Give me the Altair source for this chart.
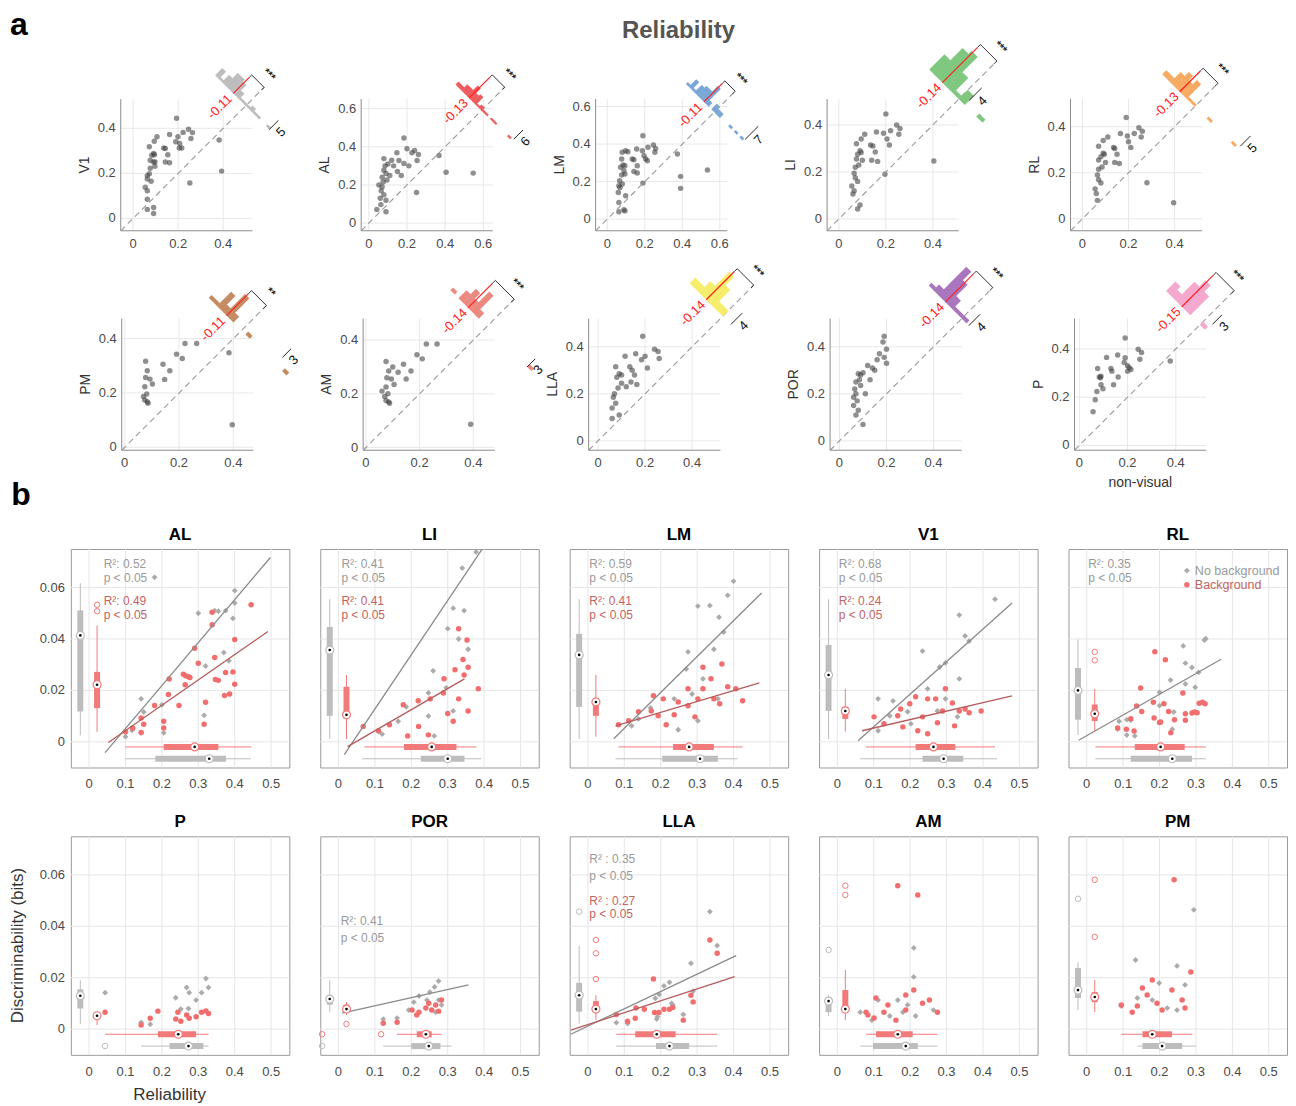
import math
import altair as alt
import pandas as pd

FONT = "Liberation Sans"

# ======================= panel a data =======================
A_NAMES = ["V1", "AL", "LM", "LI", "RL", "PM", "AM", "LLA", "POR", "P"]

A_V1 = [(0.193,0.445),(0.246,0.396),(0.264,0.381),(0.222,0.382),(0.199,0.363),(0.189,0.340),(0.207,0.333),
        (0.205,0.313),(0.216,0.313),(0.162,0.373),(0.106,0.363),(0.094,0.343),(0.136,0.313),(0.143,0.310),
        (0.154,0.283),(0.143,0.250),(0.162,0.247),(0.257,0.355),(0.072,0.318),(0.091,0.288),(0.095,0.283),
        (0.083,0.280),(0.076,0.258),(0.097,0.250),(0.091,0.250),(0.097,0.232),(0.076,0.223),(0.072,0.198),
        (0.063,0.190),(0.063,0.175),(0.080,0.165),(0.054,0.138),(0.063,0.123),(0.063,0.085),(0.063,0.040),
        (0.091,0.048),(0.091,0.022),(0.382,0.348),(0.393,0.210),(0.252,0.157)]
A_AL = [(0.184,0.446),(0.20,0.39),(0.226,0.369),(0.147,0.369),(0.24,0.38),(0.26,0.36),(0.079,0.338),
        (0.158,0.328),(0.184,0.313),(0.253,0.328),(0.21,0.30),(0.12,0.33),(0.13,0.30),(0.10,0.31),
        (0.085,0.30),(0.079,0.277),(0.09,0.26),(0.095,0.226),(0.11,0.25),(0.07,0.24),(0.053,0.2),
        (0.07,0.19),(0.065,0.17),(0.079,0.149),(0.063,0.097),(0.042,0.072),(0.09,0.12),(0.06,0.13),
        (0.15,0.27),(0.17,0.25),(0.405,0.267),(0.547,0.262),(0.368,0.354),(0.25,0.16),(0.09,0.06),(0.075,0.215)]
A_LM = [(0.19,0.445),(0.246,0.395),(0.258,0.377),(0.254,0.356),(0.217,0.383),(0.187,0.365),(0.196,0.338),
        (0.205,0.320),(0.214,0.311),(0.157,0.374),(0.11,0.359),(0.098,0.365),(0.08,0.356),(0.133,0.320),
        (0.142,0.317),(0.16,0.285),(0.142,0.254),(0.16,0.246),(0.077,0.320),(0.084,0.288),(0.094,0.285),
        (0.071,0.276),(0.089,0.258),(0.077,0.235),(0.094,0.240),(0.066,0.205),(0.08,0.187),(0.062,0.178),
        (0.068,0.169),(0.059,0.142),(0.098,0.125),(0.062,0.089),(0.062,0.039),(0.089,0.05),(0.094,0.044),
        (0.19,0.192),(0.374,0.347),(0.391,0.228),(0.391,0.164),(0.534,0.262)]
A_LI = [(0.20,0.447),(0.246,0.40),(0.26,0.385),(0.22,0.375),(0.19,0.365),(0.205,0.34),(0.215,0.315),
        (0.16,0.37),(0.11,0.36),(0.095,0.34),(0.135,0.315),(0.145,0.31),(0.155,0.285),(0.14,0.25),
        (0.165,0.245),(0.075,0.32),(0.09,0.29),(0.095,0.283),(0.08,0.275),(0.075,0.255),(0.10,0.25),
        (0.085,0.23),(0.07,0.22),(0.065,0.195),(0.07,0.175),(0.08,0.16),(0.055,0.14),(0.065,0.12),
        (0.06,0.106),(0.08,0.043),(0.09,0.06),(0.196,0.19),(0.404,0.247),(0.255,0.36)]
A_RL = [(0.19,0.44),(0.245,0.395),(0.26,0.38),(0.225,0.37),(0.195,0.36),(0.20,0.335),(0.21,0.31),
        (0.165,0.37),(0.11,0.355),(0.09,0.34),(0.135,0.31),(0.14,0.305),(0.15,0.28),(0.14,0.245),
        (0.16,0.24),(0.07,0.315),(0.09,0.285),(0.095,0.28),(0.08,0.27),(0.07,0.255),(0.10,0.245),
        (0.085,0.225),(0.07,0.215),(0.065,0.19),(0.07,0.17),(0.08,0.155),(0.055,0.13),(0.06,0.11),
        (0.065,0.08),(0.28,0.157),(0.396,0.07),(0.255,0.355)]
A_PM = [(0.077,0.317),(0.083,0.282),(0.077,0.257),(0.093,0.251),(0.102,0.233),(0.074,0.223),(0.081,0.196),
        (0.069,0.187),(0.074,0.174),(0.086,0.162),(0.083,0.168),(0.141,0.306),(0.147,0.25),(0.166,0.282),
        (0.191,0.343),(0.212,0.327),(0.222,0.382),(0.265,0.382),(0.384,0.348),(0.396,0.083)]
A_AM = [(0.075,0.32),(0.085,0.285),(0.078,0.26),(0.095,0.255),(0.105,0.235),(0.075,0.225),(0.082,0.2),
        (0.07,0.19),(0.075,0.175),(0.088,0.165),(0.085,0.17),(0.14,0.31),(0.15,0.255),(0.168,0.285),
        (0.19,0.345),(0.21,0.33),(0.225,0.385),(0.265,0.385),(0.12,0.28),(0.39,0.087),(0.06,0.21),(0.1,0.3)]
A_LLA = [(0.19,0.445),(0.24,0.39),(0.255,0.38),(0.2,0.36),(0.185,0.345),(0.21,0.31),(0.16,0.37),
         (0.115,0.36),(0.135,0.315),(0.145,0.30),(0.155,0.28),(0.14,0.25),(0.075,0.315),(0.09,0.285),
         (0.1,0.28),(0.08,0.27),(0.1,0.245),(0.085,0.225),(0.07,0.2),(0.065,0.185),(0.075,0.16),
         (0.06,0.14),(0.09,0.11),(0.06,0.095),(0.12,0.23),(0.26,0.35),(0.165,0.24)]
A_POR = [(0.19,0.445),(0.185,0.42),(0.2,0.39),(0.17,0.37),(0.19,0.355),(0.2,0.33),(0.16,0.345),
         (0.14,0.31),(0.15,0.30),(0.12,0.32),(0.1,0.29),(0.09,0.28),(0.08,0.285),(0.085,0.26),
         (0.07,0.25),(0.09,0.235),(0.065,0.22),(0.07,0.2),(0.06,0.185),(0.075,0.17),(0.06,0.15),
         (0.08,0.13),(0.07,0.11),(0.1,0.07),(0.11,0.2),(0.13,0.26)]
A_P = [(0.19,0.445),(0.244,0.399),(0.258,0.385),(0.251,0.357),(0.159,0.375),(0.113,0.365),(0.19,0.364),
       (0.186,0.344),(0.2,0.33),(0.207,0.322),(0.214,0.315),(0.2,0.308),(0.131,0.319),(0.135,0.308),
       (0.076,0.319),(0.161,0.284),(0.083,0.284),(0.09,0.287),(0.087,0.281),(0.142,0.252),(0.09,0.252),
       (0.098,0.235),(0.073,0.224),(0.066,0.189),(0.057,0.14),(0.377,0.35)]
A_PTS = {"V1": A_V1, "AL": A_AL, "LM": A_LM, "LI": A_LI, "RL": A_RL,
         "PM": A_PM, "AM": A_AM, "LLA": A_LLA, "POR": A_POR, "P": A_P}

A_MEAN = [-0.11, -0.13, -0.11, -0.14, -0.13, -0.11, -0.14, -0.14, -0.14, -0.15]
A_MEAN_TXT = ["-0.11", "-0.13", "-0.11", "-0.14", "-0.13", "-0.11", "-0.14", "-0.14", "-0.14", "-0.15"]
A_STARS = ["***", "***", "***", "***", "***", "**", "***", "***", "***", "***"]
A_SCALEN = [5, 6, 7, 4, 5, 3, 3, 4, 4, 3]
A_COLORS = ["#bdbdbd", "#ef5b5e", "#7ba7d7", "#80c77f", "#f7aa62",
            "#c58b63", "#eb8a80", "#f6ee6b", "#a976bd", "#f4a8cd"]

# layout constants: axis domains, ticks, horizontal offset of each plot inside its cell,
# histogram geometry (base, red length, count scale, bin width, scale-bar offset, scale-bar start)
A_DOM = [(-0.055, 0.53), (-0.04, 0.65), (-0.062, 0.64), (-0.05, 0.51), (-0.052, 0.52),
         (-0.011, 0.474), (-0.01, 0.48), (-0.04, 0.52), (-0.04, 0.52), (-0.02, 0.526)]
A_TICKS = [[0, 0.2, 0.4], [0, 0.2, 0.4, 0.6], [0, 0.2, 0.4, 0.6], [0, 0.2, 0.4], [0, 0.2, 0.4],
           [0, 0.2, 0.4], [0, 0.2, 0.4], [0, 0.2, 0.4], [0, 0.2, 0.4], [0, 0.2, 0.4]]
A_OFF = [50, 41, 26, 8, 2, 51, 43, 19, 11, 6]
A_GEOM = [(0.50, 0.07, 0.008, 0.03, 0.21, 0.50),
          (0.59, 0.11, 0.008, 0.03, 0.32, 0.60),
          (0.57, 0.10, 0.010, 0.03, 0.31, 0.58),
          (0.51, 0.15, 0.013, 0.05, 0.05, 0.53),
          (0.487, 0.09, 0.009, 0.035, 0.37, 0.50),
          (0.43, 0.08, 0.0105, 0.03, 0.25, 0.456),
          (0.45, 0.09, 0.010, 0.03, 0.30, 0.45),
          (0.53, 0.12, 0.012, 0.04, 0.07, 0.53),
          (0.52, 0.12, 0.012, 0.04, 0.06, 0.52),
          (0.50, 0.13, 0.013, 0.04, 0.05, 0.527)]
A_W = 132
CELL_W = 219
CELL_H = [151, 162, 219, 219]

# ======================= panel b data =======================
B_NAMES = ["AL", "LI", "LM", "V1", "RL", "P", "POR", "LLA", "AM", "PM"]
B_XTICKS = [0, 0.1, 0.2, 0.3, 0.4, 0.5]
B_YTICKS = [0, 0.02, 0.04, 0.06]

B_GREY = {
    "AL": [(0.18,0.064),(0.10,0.002),(0.118,0.0045),(0.143,0.0035),(0.143,0.0167),(0.15,0.0116),(0.20,0.0144),
           (0.205,0.0035),(0.30,0.050),(0.345,0.051),(0.355,0.0508),(0.375,0.051),(0.395,0.048),(0.40,0.0588),
           (0.40,0.054),(0.37,0.0347),(0.384,0.0315),(0.32,0.0295),(0.316,0.0103)],
    "LI": [(0.378,0.0738),(0.34,0.0676),(0.315,0.052),(0.345,0.051),(0.30,0.044),(0.33,0.040),(0.356,0.036),
           (0.26,0.0276),(0.247,0.019),(0.186,0.0136),(0.164,0.008),(0.247,0.010),(0.11,0.004),(0.12,0.003),
           (0.263,0.0023),(0.315,0.012),(0.296,0.021)],
    "LM": [(0.40,0.0625),(0.384,0.057),(0.335,0.053),(0.302,0.0528),(0.36,0.0485),(0.373,0.0427),(0.346,0.036),
           (0.275,0.035),(0.27,0.0283),(0.316,0.0245),(0.237,0.0167),(0.286,0.0186),(0.172,0.0132),(0.139,0.0089),
           (0.12,0.0062),(0.302,0.0082),(0.248,0.0047),(0.357,0.0167)],
    "V1": [(0.433,0.0555),(0.351,0.0412),(0.362,0.0392),(0.335,0.0493),(0.297,0.0307),(0.234,0.0353),(0.281,0.0291),
           (0.335,0.0245),(0.248,0.0206),(0.297,0.0167),(0.193,0.0117),(0.144,0.0101),(0.112,0.0167),(0.153,0.0159),
           (0.202,0.007),(0.112,0.0043),(0.275,0.012),(0.33,0.0097)],
    "RL": [(0.085,0.0049),(0.089,0.008),(0.11,0.0086),(0.121,0.0084),(0.11,0.0026),(0.132,0.0023),(0.2,0.0193),
           (0.2,0.0141),(0.23,0.024),(0.239,0.0116),(0.235,0.0049),(0.265,0.0373),(0.271,0.0306),(0.271,0.0225),
           (0.289,0.0289),(0.298,0.0212),(0.307,0.027),(0.323,0.0396),(0.327,0.0401)],
    "P": [(0.044,0.0142),(0.143,0.0026),(0.168,0.0019),(0.238,0.0122),(0.252,0.0078),(0.268,0.0162),(0.275,0.0142),
          (0.273,0.008),(0.294,0.0113),(0.309,0.0142),(0.321,0.0197),(0.328,0.0162)],
    "POR": [(0.264,0.0164),(0.275,0.0187),(0.251,0.0144),(0.221,0.0129),(0.207,0.0105),(0.243,0.0113),(0.275,0.0113),
            (0.283,0.0094),(0.193,0.0074),(0.123,0.0039),(0.161,0.0043),(0.267,0.0066)],
    "LLA": [(0.078,0.0025),(0.109,0.0022),(0.189,0.0039),(0.191,0.0048),(0.185,0.012),(0.196,0.0135),(0.209,0.0168),
            (0.224,0.0182),(0.23,0.01),(0.233,0.0094),(0.262,0.0057),(0.283,0.0256),(0.289,0.0148),(0.335,0.0457),
            (0.355,0.0325)],
    "AM": [(0.21,0.0316),(0.21,0.0203),(0.166,0.0113),(0.144,0.0051),(0.112,0.0113),(0.095,0.0035),(0.18,0.0066),
           (0.264,0.0074),(0.215,0.0051),(0.063,0.0066),(0.193,0.0094)],
    "PM": [(0.294,0.0464),(0.134,0.0269),(0.199,0.0179),(0.248,0.0246),(0.27,0.0172),(0.095,0.009),(0.18,0.0113),
           (0.221,0.0082),(0.248,0.0074),(0.139,0.0121)],
}
B_RED = {
    "AL": [(0.10,0.0039),(0.12,0.0054),(0.143,0.0093),(0.15,0.0068),(0.143,0.0036),(0.18,0.0141),(0.205,0.008),
           (0.205,0.0054),(0.218,0.0184),(0.22,0.0244),(0.247,0.0141),(0.259,0.0263),(0.265,0.0257),(0.273,0.0253),
           (0.277,0.025),(0.264,0.0222),(0.29,0.0364),(0.30,0.0306),(0.338,0.0504),(0.338,0.0455),(0.345,0.0328),
           (0.347,0.0242),(0.355,0.0239),(0.32,0.0154),(0.316,0.0068),(0.372,0.018),(0.386,0.0186),(0.375,0.027),
           (0.395,0.0272),(0.40,0.0398),(0.40,0.0224),(0.445,0.0533)],
    "LI": [(0.068,0.006),(0.11,0.0043),(0.14,0.0066),(0.178,0.0144),(0.219,0.016),(0.252,0.0167),(0.288,0.019),
           (0.29,0.0245),(0.32,0.028),(0.345,0.026),(0.356,0.029),(0.342,0.032),(0.353,0.0396),(0.33,0.044),
           (0.30,0.011),(0.315,0.008),(0.356,0.012),(0.384,0.0206),(0.247,0.0027),(0.19,0.0023),(0.22,0.006),
           (0.33,0.0167)],
    "LM": [(0.084,0.0066),(0.112,0.0082),(0.139,0.0117),(0.174,0.012),(0.18,0.0179),(0.207,0.0167),(0.237,0.0105),
           (0.248,0.0155),(0.275,0.014),(0.275,0.0206),(0.302,0.0167),(0.316,0.0206),(0.316,0.029),(0.338,0.0245),
           (0.346,0.0167),(0.362,0.0148),(0.384,0.0214),(0.406,0.0206),(0.368,0.0303),(0.425,0.016),(0.193,0.0101),
           (0.215,0.0066),(0.294,0.0097)],
    "V1": [(0.101,0.0097),(0.128,0.007),(0.166,0.0101),(0.174,0.0128),(0.199,0.0148),(0.215,0.0175),(0.234,0.0097),
           (0.248,0.0167),(0.27,0.0167),(0.289,0.012),(0.297,0.0206),(0.316,0.0151),(0.335,0.012),(0.351,0.0128),
           (0.362,0.0113),(0.395,0.012),(0.275,0.0074),(0.221,0.0043),(0.18,0.0058),(0.322,0.0062),(0.248,0.0031)],
    "RL": [(0.085,0.0054),(0.109,0.0049),(0.13,0.0042),(0.121,0.009),(0.137,0.0139),(0.148,0.0209),(0.151,0.0118),
           (0.183,0.0154),(0.185,0.0093),(0.187,0.035),(0.2,0.0075),(0.203,0.0077),(0.212,0.0148),(0.216,0.0319),
           (0.225,0.0118),(0.231,0.0035),(0.241,0.0086),(0.264,0.019),(0.271,0.0109),(0.271,0.0084),(0.289,0.0112),
           (0.296,0.0116),(0.303,0.0113),(0.309,0.015),(0.318,0.0154),(0.325,0.0148)],
    "P": [(0.044,0.0066),(0.143,0.0016),(0.168,0.0042),(0.189,0.007),(0.238,0.0039),(0.244,0.0066),(0.252,0.0031),
          (0.268,0.0055),(0.275,0.0042),(0.294,0.0048),(0.309,0.0066),(0.321,0.0071),(0.328,0.0061)],
    "POR": [(0.123,0.0023),(0.161,0.0027),(0.202,0.0074),(0.221,0.0066),(0.24,0.0082),(0.248,0.0101),(0.256,0.0074),
            (0.275,0.007),(0.283,0.0113),(0.267,0.0094),(0.215,0.0055)],
    "LLA": [(0.078,0.0057),(0.109,0.0031),(0.13,0.0042),(0.132,0.0082),(0.155,0.0077),(0.18,0.0195),(0.183,0.0065),
            (0.195,0.0065),(0.209,0.0077),(0.224,0.0077),(0.233,0.0084),(0.262,0.0035),(0.283,0.0132),(0.289,0.0106),
            (0.335,0.0347),(0.355,0.0295)],
    "AM": [(0.166,0.0558),(0.221,0.0522),(0.079,0.0066),(0.101,0.0043),(0.106,0.0121),(0.139,0.0094),(0.161,0.0035),
           (0.188,0.0133),(0.21,0.0152),(0.234,0.0101),(0.253,0.0113),(0.275,0.0066),(0.188,0.0074),(0.128,0.0066),
           (0.084,0.0055)],
    "PM": [(0.24,0.0581),(0.286,0.0222),(0.095,0.0094),(0.139,0.009),(0.153,0.016),(0.166,0.0133),(0.18,0.0191),
           (0.193,0.0101),(0.207,0.0074),(0.234,0.0152),(0.262,0.0113),(0.27,0.0082),(0.125,0.0066)],
}

# box statistics: [whisker low, q1, median, q3, whisker high]
B_BOX = {
    "AL": dict(gv=[0.0025,0.0118,0.0414,0.0511,0.0617], rv=[0.0039,0.0131,0.0222,0.0272,0.0452],
               rh=[0.10,0.205,0.29,0.355,0.445], gh=[0.10,0.182,0.33,0.376,0.444]),
    "LI": dict(gv=[0.0012,0.0101,0.0357,0.0447,0.0555], rv=[0.001,0.0101,0.0105,0.0214,0.026],
               rh=[0.071,0.18,0.256,0.324,0.379], gh=[0.065,0.226,0.30,0.346,0.392]),
    "LM": dict(gv=[0.001,0.0136,0.0338,0.042,0.0555], rv=[0.002,0.0101,0.0155,0.0167,0.026],
               rh=[0.084,0.234,0.278,0.346,0.425], gh=[0.076,0.204,0.308,0.357,0.411]),
    "V1": dict(gv=[0.001,0.012,0.026,0.0377,0.0555], rv=[0.004,0.0089,0.012,0.0136,0.0206],
               rh=[0.079,0.215,0.264,0.324,0.433], gh=[0.063,0.234,0.292,0.346,0.439]),
    "RL": dict(gv=[0.0026,0.0086,0.02,0.0287,0.0398], rv=[0.0039,0.0081,0.0109,0.0145,0.0206],
               rh=[0.024,0.132,0.203,0.269,0.327], gh=[0.024,0.121,0.235,0.289,0.327]),
    "P": dict(gv=[0.0019,0.008,0.013,0.0155,0.019], rv=[0.0016,0.0042,0.0052,0.0066,0.0071],
              rh=[0.044,0.189,0.245,0.294,0.328], gh=[0.143,0.221,0.273,0.314,0.328]),
    "POR": dict(gv=[0.0066,0.0095,0.0117,0.0128,0.019], rv=[0.0055,0.0066,0.0078,0.0095,0.0105],
                rh=[0.16,0.215,0.24,0.256,0.283], gh=[0.123,0.2,0.248,0.28,0.31]),
    "LLA": dict(gv=[0.0022,0.0068,0.0132,0.018,0.0325], rv=[0.0035,0.0065,0.0078,0.0109,0.0132],
                rh=[0.078,0.13,0.189,0.241,0.355], gh=[0.078,0.187,0.224,0.278,0.355]),
    "AM": dict(gv=[0.0051,0.0066,0.0109,0.0113,0.0133], rv=[0.0035,0.0066,0.0078,0.0152,0.023],
               rh=[0.079,0.106,0.166,0.207,0.275], gh=[0.063,0.098,0.188,0.221,0.275]),
    "PM": dict(gv=[0.0074,0.0121,0.0152,0.0238,0.026], rv=[0.0066,0.0105,0.0125,0.0144,0.0191],
               rh=[0.095,0.153,0.18,0.234,0.29], gh=[0.139,0.153,0.207,0.262,0.30]),
}
B_OUT = {
    "AL": dict(rv=[0.0508, 0.0533]),
    "RL": dict(rv=[0.0317, 0.035]),
    "P": dict(gh=[0.044]),
    "POR": dict(rv=[0.002], rh=[-0.045, 0.117], gh=[-0.045]),
    "LLA": dict(gv=[0.0457], rv=[0.0195, 0.0295, 0.0347]),
    "AM": dict(gv=[0.0308], rv=[0.0522, 0.0558]),
    "PM": dict(gv=[0.0507], rv=[0.0359, 0.0581]),
}
# fitted regression lines: (x0, y0, x1, y1)
B_FIT_GREY = {"AL": (0.044, -0.0042, 0.498, 0.0717), "LI": (0.016, -0.005, 0.398, 0.0757),
              "LM": (0.071, 0.0012, 0.477, 0.0579), "V1": (0.057, 0.0004, 0.480, 0.054),
              "RL": (-0.022, 0.0006, 0.369, 0.0321), "POR": (0.01, 0.0062, 0.357, 0.0172),
              "LLA": (-0.047, -0.002, 0.407, 0.0286)}
B_FIT_RED = {"AL": (0.053, -0.0003, 0.491, 0.0429), "LI": (0.025, -0.0019, 0.346, 0.0245),
             "LM": (0.076, 0.0062, 0.471, 0.0229), "V1": (0.068, 0.0043, 0.480, 0.0179),
             "LLA": (-0.047, -0.0004, 0.403, 0.0204)}
B_R2_GREY = {"AL": "R²: 0.52", "LI": "R²: 0.41", "LM": "R²: 0.59", "V1": "R²: 0.68", "RL": "R²: 0.35",
             "POR": "R²: 0.41", "LLA": "R² : 0.35"}
B_R2_RED = {"AL": "R²: 0.49", "LI": "R²: 0.41", "LM": "R²: 0.41", "V1": "R²: 0.24", "LLA": "R² : 0.27"}
P_TXT = "p < 0.05"

# layout constants for panel b text blocks: x, grey R2 y, grey p y, red R2 y, red p y
B_TXT_POS = {"AL": (0.04, 0.069, 0.0636, 0.0549, 0.0495), "LI": (0.008, 0.069, 0.0636, 0.0549, 0.0495),
             "LM": (0.004, 0.069, 0.0636, 0.0549, 0.0495), "V1": (0.004, 0.069, 0.0636, 0.0549, 0.0495),
             "RL": (0.004, 0.069, 0.0636, 0.0549, 0.0495), "POR": (0.006, 0.042, 0.0355, 0, 0),
             "LLA": (0.004, 0.066, 0.0594, 0.050, 0.0448)}

GREY_PT = "#ababab"
RED_PT = "#f26e6e"
GREY_LINE = "#8a8a8a"
RED_LINE = "#b65c5c"
GREY_BOX = "#bdbdbd"
RED_BOX = "#f27a7a"
GREY_TXT = "#9a9a9a"
RED_TXT = "#c26464"
TICK_COL = "#4a4a4a"
GRID_COL = "#e6e6e6"

XLO, XHI, YLO, YHI = -0.05, 0.55, -0.01, 0.075
XS_B = alt.Scale(domain=[XLO, XHI], nice=False, zero=False)
YS_B = alt.Scale(domain=[YLO, YHI], nice=False, zero=False)


def pix_text(text, px, py, size=13, color="#333333", weight="normal", angle=0):
    kw = dict(fontSize=size, fontWeight=weight, color=color, font=FONT, baseline="middle", align="center")
    if angle:
        kw["angle"] = angle
    return alt.Chart(pd.DataFrame({"t": [text]})).mark_text(**kw).encode(
        x=alt.value(px), y=alt.value(py), text="t:N")


def chart_a(i, cell_h, extra=()):
    nm = A_NAMES[i]
    lo, hi = A_DOM[i]
    B, L, k, bw, sd, s0 = A_GEOM[i]
    col = A_COLORS[i]
    off = A_OFF[i]
    ppu = A_W / (hi - lo)
    sw = bw / math.sqrt(2) * ppu + 0.4
    scx = alt.Scale(domain=[lo, hi], range=[off, off + A_W], nice=False, zero=False)
    scy = alt.Scale(domain=[lo, hi], range=[A_W, 0], nice=False, zero=False)
    df = pd.DataFrame(A_PTS[nm], columns=["x", "y"])
    T = B + L + 0.012
    t = 0.012
    r2 = math.sqrt(2)

    def X(f):
        return alt.X(f, type="quantitative", scale=scx, axis=None)

    def Y(f):
        return alt.Y(f, type="quantitative", scale=scy, axis=None)

    def XD(v):
        return alt.XDatum(v, type="quantitative", scale=scx, axis=None)

    def YD(v):
        return alt.YDatum(v, type="quantitative", scale=scy, axis=None)

    tk = alt.Chart(pd.DataFrame({"t": A_TICKS[i]})).transform_calculate(lab="format(datum.t, '~g')")
    gx = tk.mark_rule(color="#e8e8e8", strokeWidth=1).encode(x=X("t"), y=YD(lo), y2=alt.Y2Datum(hi))
    gy = tk.mark_rule(color="#e8e8e8", strokeWidth=1).encode(y=Y("t"), x=XD(lo), x2=alt.X2Datum(hi))
    xl = tk.mark_text(dy=13, fontSize=13, color=TICK_COL, font=FONT, baseline="middle", align="center").encode(
        x=X("t"), y=YD(lo), text="lab:N")
    yl = tk.mark_text(dx=-5, fontSize=13, color=TICK_COL, font=FONT, baseline="middle", align="right").encode(
        x=XD(lo), y=Y("t"), text="lab:N")

    one = pd.DataFrame({"m": [A_MEAN[i]], "lab": [A_MEAN_TXT[i]], "st": [A_STARS[i]], "n": [A_SCALEN[i]]})
    ic = alt.Chart(one)
    dom_l = ic.mark_rule(color="#8c8c8c", strokeWidth=1).encode(x=XD(lo), y=YD(lo), y2=alt.Y2Datum(hi))
    dom_b = ic.mark_rule(color="#8c8c8c", strokeWidth=1).encode(y=YD(lo), x=XD(lo), x2=alt.X2Datum(hi))
    ytitle = pix_text(nm, off - 36, A_W / 2, size=14, angle=270)

    pts = alt.Chart(df).mark_circle(size=30, color="#444444", opacity=0.6).encode(x=X("x"), y=Y("y"))
    diag = ic.mark_rule(strokeDash=[6, 4], color="#9a9a9a", strokeWidth=1.1).encode(
        x=XD(lo), y=YD(lo), x2=alt.X2Datum(T), y2=alt.Y2Datum(T))
    hist = alt.Chart(df).transform_calculate(d="datum.x - datum.y").transform_bin(
        as_=["b0", "b1"], field="d", bin=alt.BinParams(step=bw)
    ).transform_aggregate(n="count()", groupby=["b0", "b1"]).transform_calculate(
        c="(datum.b0 + datum.b1) / 2"
    ).transform_calculate(
        sx=f"{B} + datum.c / 2", sy=f"{B} - datum.c / 2",
        ex=f"{B} + datum.c / 2 + datum.n * {k}", ey=f"{B} - datum.c / 2 + datum.n * {k}",
    ).mark_rule(color=col, strokeWidth=sw, strokeCap="butt").encode(
        x=X("sx"), y=Y("sy"), x2=alt.X2("ex"), y2=alt.Y2("ey"))

    def seg(sx, sy, ex, ey, color, width):
        return ic.transform_calculate(sx=sx, sy=sy, ex=ex, ey=ey).mark_rule(
            color=color, strokeWidth=width).encode(x=X("sx"), y=Y("sy"), x2=alt.X2("ex"), y2=alt.Y2("ey"))

    red = seg(f"{B} + datum.m / 2", f"{B} - datum.m / 2", f"{B + L} + datum.m / 2", f"{B + L} - datum.m / 2",
              "#ff2222", 1.2)
    br_main = seg(f"{T} + datum.m / 2", f"{T} - datum.m / 2", f"{T}", f"{T}", "#333333", 1)
    br_t1 = seg(f"{T} + datum.m / 2", f"{T} - datum.m / 2", f"{T - t} + datum.m / 2", f"{T - t} - datum.m / 2",
                "#333333", 1)
    br_t2 = seg(f"{T}", f"{T}", f"{T - t}", f"{T - t}", "#333333", 1)
    Ts = T + 12 / (r2 * ppu)
    stars = ic.transform_calculate(
        px=f"{Ts} + datum.m * 0.15", py=f"{Ts} - datum.m * 0.15",
    ).mark_text(angle=45, fontSize=11, color="#222222", font=FONT, fontWeight="bold").encode(
        x=X("px"), y=Y("py"), text="st:N")
    Bm = B - 19 / (r2 * ppu)
    mtxt = ic.transform_calculate(
        px=f"{Bm} + datum.m / 2", py=f"{Bm} - datum.m / 2",
    ).mark_text(angle=315, fontSize=13, color="#ff2222", font=FONT).encode(x=X("px"), y=Y("py"), text="lab:N")
    sbar = seg(f"{s0 + sd / 2}", f"{s0 - sd / 2}", f"{s0 + sd / 2} + datum.n * {k}",
               f"{s0 - sd / 2} + datum.n * {k}", "#222222", 1)
    dd = sd + 10 * r2 / ppu
    stxt = ic.transform_calculate(
        px=f"{s0} + datum.n * {k} / 2 + {dd / 2}", py=f"{s0} + datum.n * {k} / 2 - {dd / 2}",
    ).mark_text(angle=315, fontSize=13, color="#111111", font=FONT).encode(x=X("px"), y=Y("py"), text="n:N")

    layers = [gx, gy, dom_l, dom_b, xl, yl, ytitle, pts, diag, hist, red, br_main, br_t1, br_t2, stars, mtxt,
              sbar, stxt]
    if nm == "P":
        layers.append(pix_text("non-visual", off + A_W / 2, A_W + 33, size=14))
    layers += list(extra)
    return alt.layer(*layers).properties(width=CELL_W, height=cell_h, view=alt.ViewBackground(stroke=None))


def box_layers(stats, outs, pos, col, vertical):
    lo, q1, md, q3, hi = stats
    d = pd.DataFrame({"lo": [lo], "q1": [q1], "md": [md], "q3": [q3], "hi": [hi]})
    c = alt.Chart(d)
    if vertical:
        P = dict(x=alt.XDatum(pos, type="quantitative", scale=XS_B, axis=None))

        def F(a, b=None):
            e = dict(y=alt.Y(a, type="quantitative", scale=YS_B, axis=None))
            if b:
                e["y2"] = alt.Y2(b)
            return e
    else:
        P = dict(y=alt.YDatum(pos, type="quantitative", scale=YS_B, axis=None))

        def F(a, b=None):
            e = dict(x=alt.X(a, type="quantitative", scale=XS_B, axis=None))
            if b:
                e["x2"] = alt.X2(b)
            return e
    out = [
        c.mark_rule(color=col, strokeWidth=1).encode(**P, **F("lo", "hi")),
        c.mark_rule(color=col, strokeWidth=6, strokeCap="butt").encode(**P, **F("q1", "q3")),
        c.mark_point(shape="circle", filled=True, fill="white", stroke=col, strokeWidth=1.2, size=64,
                     opacity=1).encode(**P, **F("md")),
        c.mark_circle(color="black", size=7, opacity=1).encode(**P, **F("md")),
    ]
    if outs:
        od = pd.DataFrame({"v": outs})
        out.append(alt.Chart(od).mark_point(shape="circle", filled=False, color=col, size=30, strokeWidth=1,
                                            opacity=1).encode(**P, **F("v")))
    return out


def txt(text, x, y, col, size=12):
    return alt.Chart(pd.DataFrame({"t": [text]})).mark_text(
        align="left", baseline="middle", fontSize=size, color=col, font=FONT).encode(
        x=alt.XDatum(x, type="quantitative", scale=XS_B, axis=None),
        y=alt.YDatum(y, type="quantitative", scale=YS_B, axis=None), text="t:N")


def fit_line(vals, colr):
    x0, y0, x1, y1 = vals
    d = pd.DataFrame({"x": [x0, x1], "y": [y0, y1]})
    return alt.Chart(d).mark_line(color=colr, strokeWidth=1.3, clip=True).encode(
        x=alt.X("x:Q", scale=XS_B, axis=None), y=alt.Y("y:Q", scale=YS_B, axis=None))


def chart_b(i):
    nm = B_NAMES[i]
    first = i % 5 == 0
    gdf = pd.DataFrame(B_GREY[nm], columns=["x", "y"])
    rdf = pd.DataFrame(B_RED[nm], columns=["x", "y"])

    def XQ(f):
        return alt.X(f, type="quantitative", scale=XS_B, axis=None)

    def YQ(f):
        return alt.Y(f, type="quantitative", scale=YS_B, axis=None)

    def XD(v):
        return alt.XDatum(v, type="quantitative", scale=XS_B, axis=None)

    def YD(v):
        return alt.YDatum(v, type="quantitative", scale=YS_B, axis=None)

    tx = alt.Chart(pd.DataFrame({"t": B_XTICKS})).transform_calculate(lab="format(datum.t, '~g')")
    ty = alt.Chart(pd.DataFrame({"t": B_YTICKS})).transform_calculate(lab="format(datum.t, '~g')")
    layers = [
        tx.mark_rule(color=GRID_COL, strokeWidth=1).encode(x=XQ("t"), y=YD(YLO), y2=alt.Y2Datum(YHI)),
        ty.mark_rule(color=GRID_COL, strokeWidth=1).encode(y=YQ("t"), x=XD(XLO), x2=alt.X2Datum(XHI)),
        tx.mark_text(dy=17, fontSize=13, color=TICK_COL, font=FONT, baseline="middle", align="center").encode(
            x=XQ("t"), y=YD(YLO), text="lab:N"),
    ]
    if first:
        layers.append(ty.mark_text(dx=-6, fontSize=13, color=TICK_COL, font=FONT, baseline="middle",
                                   align="right").encode(x=XD(XLO), y=YQ("t"), text="lab:N"))
    if i == 5:
        layers.append(pix_text("Reliability", 99, CELL_W + 40, size=17))
        layers.append(pix_text("Discriminability (bits)", -53, CELL_W / 2, size=17, angle=270))
    layers.append(alt.Chart(gdf).mark_point(shape="diamond", filled=True, color=GREY_PT, size=34,
                                            opacity=1).encode(x=XQ("x"), y=YQ("y")))
    layers.append(alt.Chart(rdf).mark_circle(color=RED_PT, size=30, opacity=1).encode(x=XQ("x"), y=YQ("y")))
    if nm in B_FIT_GREY:
        layers.append(fit_line(B_FIT_GREY[nm], GREY_LINE))
    if nm in B_FIT_RED:
        layers.append(fit_line(B_FIT_RED[nm], RED_LINE))
    bx = B_BOX[nm]
    ou = B_OUT.get(nm, {})
    layers += box_layers(bx["gv"], ou.get("gv"), -0.024, GREY_BOX, True)
    layers += box_layers(bx["rv"], ou.get("rv"), 0.022, RED_BOX, True)
    layers += box_layers(bx["rh"], ou.get("rh"), -0.0020, RED_BOX, False)
    layers += box_layers(bx["gh"], ou.get("gh"), -0.0066, GREY_BOX, False)
    if nm in B_TXT_POS:
        x0, yg1, yg2, yr1, yr2 = B_TXT_POS[nm]
        layers.append(txt(B_R2_GREY[nm], x0, yg1, GREY_TXT))
        layers.append(txt(P_TXT, x0, yg2, GREY_TXT))
        if nm in B_R2_RED:
            layers.append(txt(B_R2_RED[nm], x0, yr1, RED_TXT))
            layers.append(txt(P_TXT, x0, yr2, RED_TXT))
    if nm == "RL":
        layers.append(alt.Chart(pd.DataFrame({"t": ["No background"]})).mark_point(
            shape="diamond", filled=True, color=GREY_PT, size=34, opacity=1).encode(x=XD(0.275), y=YD(0.0666)))
        layers.append(alt.Chart(pd.DataFrame({"t": ["Background"]})).mark_circle(
            color=RED_PT, size=30, opacity=1).encode(x=XD(0.275), y=YD(0.0611)))
        layers.append(txt("No background", 0.297, 0.0666, GREY_TXT, 12.5))
        layers.append(txt("Background", 0.297, 0.0611, RED_TXT, 12.5))
    return alt.layer(*layers).properties(
        width=CELL_W, height=CELL_W,
        title=alt.TitleParams(text=nm, fontSize=17, fontWeight="bold", color="black", offset=5, font=FONT),
        view=alt.ViewBackground(stroke="#9a9a9a", strokeWidth=1),
    )


cells = []
for i in range(5):
    ex = []
    if i == 0:
        ex.append(pix_text("a", -52, -74, size=32, color="black", weight="bold"))
    if i == 2:
        ex.append(pix_text("Reliability", 109, -68, size=24, color="#555555", weight="bold"))
    cells.append(chart_a(i, CELL_H[0], ex))
for i in range(5, 10):
    ex = []
    if i == 5:
        ex.append(pix_text("b", -50, 177, size=32, color="black", weight="bold"))
    cells.append(chart_a(i, CELL_H[1], ex))
for i in range(10):
    cells.append(chart_b(i))

chart = alt.concat(*cells, columns=5, spacing=alt.RowColnumber(row=69, column=31), bounds="flush").properties(
    padding=0).configure_view(stroke=None).configure_text(font=FONT).configure_title(font=FONT)

chart.save("out.html", embed_options={"renderer": "svg", "actions": False})
